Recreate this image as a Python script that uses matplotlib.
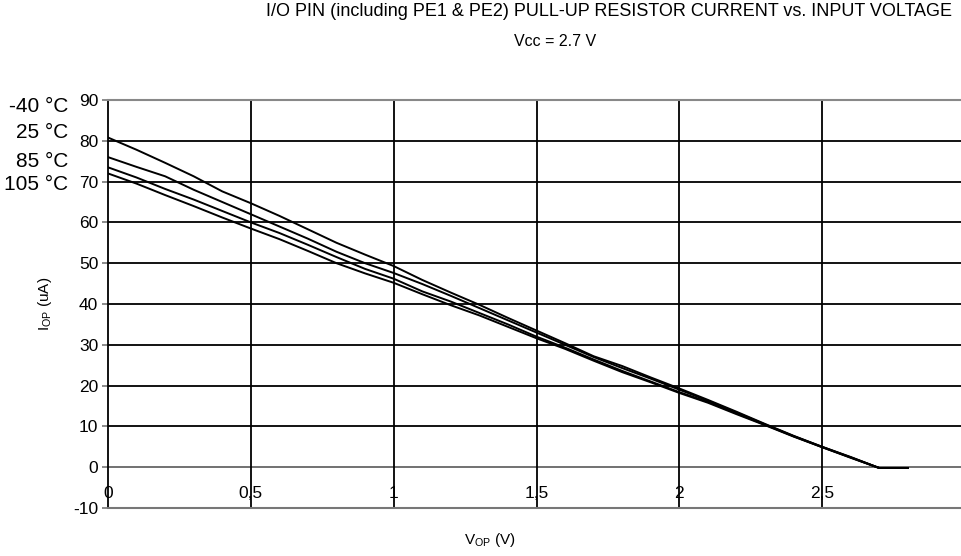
# Pull-up resistor current vs input voltage, four temperatures

import matplotlib.pyplot as plt
import numpy as np

plt.rcParams['font.family'] = ['Liberation Sans', 'DejaVu Sans']
plt.rcParams['mathtext.default'] = 'regular'

# ------ Data ------
v_op = [0.0, 0.1, 0.2, 0.3, 0.4, 0.5, 0.6, 0.7, 0.8, 0.9,
        1.0, 1.1, 1.2, 1.3, 1.4, 1.5, 1.6, 1.7, 1.8, 1.9,
        2.0, 2.1, 2.2, 2.3, 2.4, 2.5, 2.6, 2.7, 2.8]

i_m40 = [80.8, 77.8, 74.6, 71.3, 67.6, 64.7, 61.6, 58.3, 55.0, 52.1,
         49.3, 45.9, 42.8, 39.8, 36.6, 33.5, 30.4, 27.2, 24.8, 22.0,
         19.3, 16.5, 13.6, 10.6, 7.7, 5.0, 2.4, -0.2, -0.2]
i_25 = [76.0, 73.6, 71.3, 68.0, 65.0, 62.0, 59.0, 56.0, 52.8, 50.0,
        47.6, 44.9, 42.0, 39.0, 36.0, 33.0, 30.0, 27.0, 24.3, 21.7,
        19.0, 16.3, 13.4, 10.5, 7.6, 5.0, 2.5, -0.2, -0.2]
i_85 = [73.5, 71.0, 68.2, 65.6, 62.8, 60.0, 57.4, 54.5, 51.5, 48.6,
        46.2, 43.1, 40.6, 37.8, 35.0, 32.0, 29.3, 26.4, 23.6, 21.0,
        18.4, 16.0, 13.2, 10.4, 7.6, 4.9, 2.4, -0.2, -0.2]
i_105 = [72.0, 69.5, 66.7, 64.0, 61.2, 58.5, 55.9, 53.0, 50.0, 47.5,
         45.2, 42.4, 39.7, 37.2, 34.4, 31.6, 29.0, 26.1, 23.3, 20.8,
         18.2, 15.8, 13.0, 10.3, 7.5, 4.9, 2.3, -0.2, -0.2]

temps = ['-40 \u00b0C', '25 \u00b0C', '85 \u00b0C', '105 \u00b0C']
temp_label_y = [106.7, 132.3, 161.7, 184.3]   # pixel rows of the labels

x_ticks = [0, 0.5, 1, 1.5, 2, 2.5, 3]
x_ticklabels = ['0', '0,5', '1', '1,5', '2', '2,5', '3']
y_ticks = np.arange(-10, 91, 10)

W, H = 961, 556
fig = plt.figure(figsize=(W / 100, H / 100), dpi=100)
ax = fig.add_axes([108 / W, (H - 508) / H, 857 / W, 408 / H])

ax.set_xlim(0, 3)
ax.set_ylim(-10, 90)

# grid
for yv in y_ticks[1:-1]:
    ax.axhline(yv, color='#666666' if yv == 0 else 'black', lw=1.3, zorder=1)
for xv in x_ticks[1:]:
    ax.axvline(xv, color='black', lw=1.3, zorder=1)

# curves
for cur in (i_m40, i_25, i_85, i_105):
    ax.plot(v_op, cur, color='black', lw=1.4, zorder=3)

ax.spines['right'].set_visible(False)
ax.spines['left'].set_color('black')
ax.spines['left'].set_linewidth(1.3)
ax.spines['top'].set_color('#888888')
ax.spines['top'].set_linewidth(1.5)
ax.spines['bottom'].set_color('#777777')
ax.spines['bottom'].set_linewidth(1.5)

ax.set_yticks(y_ticks)
ax.set_yticklabels([str(v) for v in y_ticks])
ax.tick_params(axis='y', length=4, width=1.2, color='#777777', labelsize=12.5, pad=3)

ax.set_xticks(x_ticks)
ax.set_xticklabels(x_ticklabels)
ax.tick_params(axis='x', length=0, labelsize=12.5, pad=-16)

ax.set_ylabel('$I_{OP}$ (uA)', fontsize=11)
ax.yaxis.set_label_coords(-(108 - 45) / 857, 0.5)
ax.yaxis.label.set_va('center')
ax.set_xlabel('$V_{OP}$ (V)', fontsize=11)
ax.xaxis.set_label_coords((490 - 108) / 857, -(540 - 508) / 408)
ax.xaxis.label.set_va('center')

for name, yp in zip(temps, temp_label_y):
    fig.text(68 / W, 1 - yp / H, name, ha='right', va='center', fontsize=15)

fig.text(609 / W, 1 - 12 / H,
         'I/O PIN (including PE1 & PE2) PULL-UP RESISTOR CURRENT vs. INPUT VOLTAGE',
         ha='center', va='center', fontsize=13)
fig.text(555 / W, 1 - 42 / H, 'Vcc = 2.7 V', ha='center', va='center', fontsize=11.5)

plt.savefig('out.png', dpi=100)
